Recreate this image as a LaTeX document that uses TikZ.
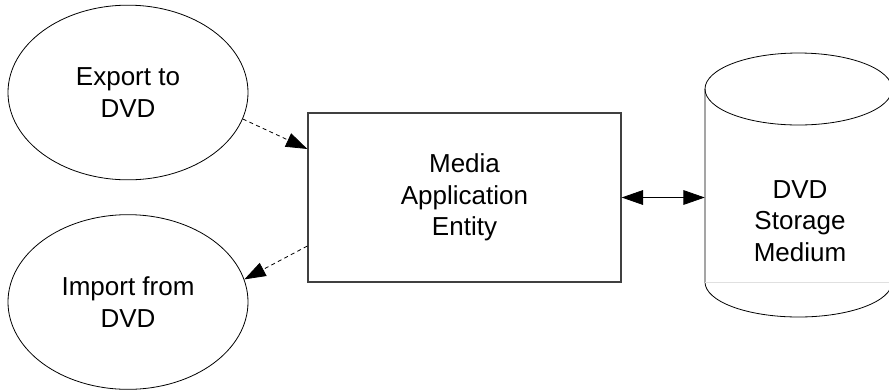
\documentclass[tikz,border=0pt]{standalone}
\usepackage{fontspec}
\setmainfont{Liberation Sans}
\usetikzlibrary{arrows.meta,shapes.geometric}

\begin{document}
\begin{tikzpicture}[
  x=0.75pt, y=-0.75pt,
  font=\fontsize{19.5pt}{23.6pt}\selectfont,
  >={Triangle[length=16pt, width=11pt]},
  usecase/.style={draw, ellipse, line width=0.6pt, align=center, inner sep=0pt,
    minimum width=180pt, minimum height=131pt},
  box/.style={draw=black!75, line width=1pt, align=center,
    minimum width=234.75pt, minimum height=126.75pt},
  rim/.style={line width=0.6pt},
  dep/.style={->, line width=0.6pt, dash pattern=on 3pt off 2.5pt},
]
\useasboundingbox (0,0) rectangle (889,390);

\node[usecase] (export) at (128,92.5) {Export to\\ DVD};
\node[usecase] (import) at (128,302) {Import from\\ DVD};
\node[box] (entity) at (464.5,197.5) {Media\\ Application\\ Entity};
\node[inner sep=0pt, minimum width=140.25pt, minimum height=198pt] (store) at (798.5,185) {};
\node[align=center] (storelabel) at (800,221) {DVD\\ Storage\\ Medium};

% disk drawn by hand
\draw[rim] (798.5,89) ellipse [x radius=93.5, y radius=36];
\draw[rim] (705,89) -- (705,282) arc[start angle=180, end angle=0, x radius=93.5, y radius=35] -- (892,89);
\draw[black!12, line width=0.6pt] (705,282) -- (892,282);

\draw[dep] (export.-13.4) -- ([yshift=36.4pt]entity.west);
\draw[dep] ([yshift=-36.4pt]entity.west) -- (import.11.6);
\draw[<->, line width=0.6pt] (entity.east) -- (entity.east -| store.west);
\end{tikzpicture}
\end{document}
